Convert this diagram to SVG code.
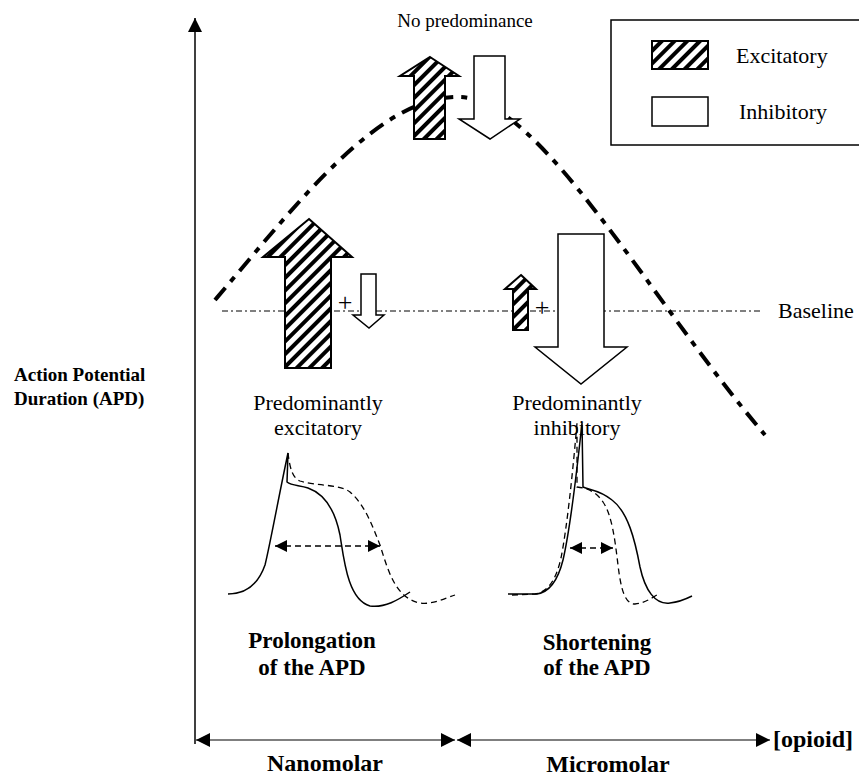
<svg xmlns="http://www.w3.org/2000/svg" width="859" height="778" viewBox="0 0 859 778">
<defs>
<pattern id="hatch" width="9" height="9" patternUnits="userSpaceOnUse" patternTransform="rotate(45)">
<rect width="9" height="9" fill="#fff"/><rect width="4" height="9" fill="#000"/>
</pattern>
<marker id="ah" viewBox="0 0 12 12" refX="12" refY="6" markerWidth="12" markerHeight="12" markerUnits="userSpaceOnUse" orient="auto-start-reverse">
<path d="M0,0 L12,6 L0,12 Z" fill="#000"/>
</marker>
<marker id="ax" viewBox="0 0 14 14" refX="14" refY="7" markerWidth="14" markerHeight="14" markerUnits="userSpaceOnUse" orient="auto-start-reverse">
<path d="M0,0 L14,7 L0,14 Z" fill="#000"/>
</marker>
</defs>
<style>
.t{font-family:"Liberation Serif","Times New Roman",serif;font-size:22px;fill:#000}
.pl{font-family:"Liberation Serif","Times New Roman",serif;font-size:26px;fill:#000}
.np{font-family:"Liberation Serif","Times New Roman",serif;font-size:19px;fill:#000}
.b{font-family:"Liberation Serif","Times New Roman",serif;font-size:23px;font-weight:bold;fill:#000}
.bx{font-family:"Liberation Serif","Times New Roman",serif;font-size:24px;font-weight:bold;fill:#000}
.sb{font-family:"Liberation Serif","Times New Roman",serif;font-size:19px;font-weight:bold;fill:#000}
.ex{fill:url(#hatch);stroke:#000;stroke-width:2;stroke-linejoin:miter}
.in{fill:#fff;stroke:#000;stroke-width:1.5}
.ap{fill:none;stroke:#000;stroke-width:1.5}
.apd{fill:none;stroke:#000;stroke-width:1.3;stroke-dasharray:6 4}
</style>
<rect width="859" height="778" fill="#fff"/>

<g id="connectors">
<line x1="195" y1="744" x2="195" y2="18" stroke="#000" stroke-width="1.5" marker-end="url(#ax)"/>
<line x1="196" y1="740" x2="455" y2="740" stroke="#000" stroke-width="1.2" marker-start="url(#ax)" marker-end="url(#ax)"/>
<line x1="457" y1="740" x2="770" y2="740" stroke="#000" stroke-width="1.2" marker-start="url(#ax)" marker-end="url(#ax)"/>
<line x1="222" y1="311" x2="762" y2="311" stroke="#000" stroke-width="1" stroke-dasharray="6 3 2 3"/>
<path d="M215,300 C300,200 380,95 460,97 C540,99 650,300 765,435" fill="none" stroke="#000" stroke-width="4" stroke-dasharray="16 8 6 8"/>
</g>

<g id="legend">
<rect x="611" y="20" width="260" height="125" fill="none" stroke="#000" stroke-width="1.5"/>
<rect x="652" y="41" width="56" height="28" class="ex"/>
<rect x="652" y="97" width="56" height="29" class="in"/>
<text x="736" y="63" class="t">Excitatory</text>
<text x="739" y="119" class="t">Inhibitory</text>
</g>

<g id="no-predominance">
<text x="465" y="27" class="np" text-anchor="middle">No predominance</text>
<polygon points="430,57 459,76 445,76 445,139 414,139 414,76 400,76" class="ex"/>
<polygon points="474,56 505,56 505,119 520,119 490,139 459,119 474,119" class="in"/>
</g>

<g id="excitatory-pair">
<polygon points="309,219 352,257 331,257 331,368 285,368 285,257 263,257" class="ex"/>
<text x="345" y="311" class="pl" text-anchor="middle">+</text>
<polygon points="361,274 376,274 376,315 384,315 369,328 353,315 361,315" class="in"/>
<text x="318" y="410" class="t" text-anchor="middle">Predominantly</text>
<text x="318" y="435" class="t" text-anchor="middle">excitatory</text>
</g>

<g id="inhibitory-pair">
<polygon points="521,275 536,289 528,289 528,330 513,330 513,289 505,289" class="ex"/>
<text x="542" y="316" class="pl" text-anchor="middle">+</text>
<polygon points="558,234 604,234 604,347 627,347 581,384 535,347 558,347" class="in"/>
<text x="577" y="410" class="t" text-anchor="middle">Predominantly</text>
<text x="577" y="435" class="t" text-anchor="middle">inhibitory</text>
</g>

<g id="baseline-label">
<text x="778" y="318" class="t">Baseline</text>
</g>

<g id="ap-prolongation">
<path class="ap" d="M228,594 C245,594 258,585 265,565 C270,545 280,490 288,453 L287,482 C292,486 300,485 308,488 C325,494 335,510 340,535 C344,560 348,600 370,606 C385,608 398,600 410,592"/>
<path class="apd" d="M288,453 C290,470 293,478 300,481 C315,486 340,484 350,492 C365,505 372,525 380,545 C388,570 395,598 420,603 C432,605 445,598 455,595"/>
<line x1="275" y1="546" x2="380" y2="546" stroke="#000" stroke-width="1.3" stroke-dasharray="6 4" marker-start="url(#ah)" marker-end="url(#ah)"/>
<text x="312" y="648" class="b" text-anchor="middle">Prolongation</text>
<text x="312" y="675" class="b" text-anchor="middle">of the APD</text>
</g>

<g id="ap-shortening">
<path class="ap" d="M508,594 L537,594 C550,592 558,580 563,560 C570,530 577,470 582,423 L583,487 C590,490 600,490 612,500 C628,512 635,540 640,567 C645,590 655,605 670,603 C680,602 688,598 692,596"/>
<path class="apd" d="M512,595 L535,594 C548,592 556,580 561,558 C567,528 573,470 577,423 L577,487 C585,488 595,490 603,502 C612,515 615,540 618,565 C621,590 625,604 635,604 C645,603 652,598 660,593"/>
<line x1="570" y1="548" x2="613" y2="548" stroke="#000" stroke-width="1.3" stroke-dasharray="6 4" marker-start="url(#ah)" marker-end="url(#ah)"/>
<text x="597" y="650" class="b" text-anchor="middle">Shortening</text>
<text x="597" y="675" class="b" text-anchor="middle">of the APD</text>
</g>

<g id="axis-labels">
<text x="14" y="381" class="sb">Action Potential</text>
<text x="14" y="405" class="sb">Duration (APD)</text>
<text x="773" y="747" class="bx">[opioid]</text>
<text x="325" y="771" class="bx" text-anchor="middle">Nanomolar</text>
<text x="608" y="772" class="bx" text-anchor="middle">Micromolar</text>
</g>
</svg>
